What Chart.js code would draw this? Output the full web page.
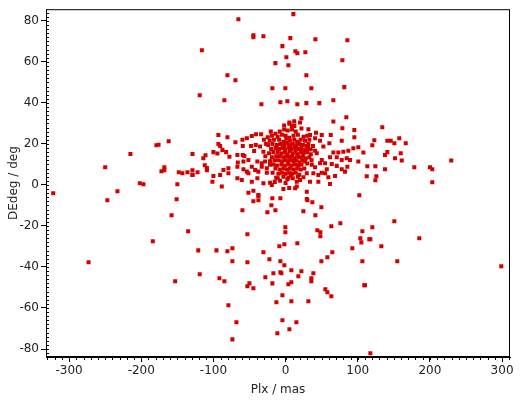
<!DOCTYPE html>
<html>
<head>
<meta charset="utf-8">
<script src="https://cdn.jsdelivr.net/npm/chart.js@4/dist/chart.umd.min.js"></script>
<style>
  body { margin: 0; background: #fff; }
  canvas { display: block; }
</style>
</head>
<body>
<canvas id="plxChart" width="526" height="400"></canvas>
<script>
// axis ticks
const xTicks = [-300, -200, -100, 0, 100, 200, 300];
const yTicks = [-80, -60, -40, -20, 0, 20, 40, 60, 80];

// points, [Plx, DEdeg]
const leftPoints = [
  [-116, 65.7], [-119, 43.7], [-162, 21.3], [-179, 19.4], [-176, 19.6], [-215, 15.1],
  [-129, 15.1], [-111, 14.5], [-114, 13], [-250, 8.6], [-168, 8.6], [-168, 7.2],
  [-172, 6.7], [-112, 9.6], [-109, 8.3], [-109, 7.2], [-148, 6.2], [-143, 5.7],
  [-136, 6.2], [-129, 7.2], [-129, 5], [-122, 6.2], [-322, -4], [-273, -37.7],
  [-247, -7.5], [-233, -3.1], [-202, 0.8], [-197, 0.3], [-184, -27.5], [-150, 0.3],
  [-151, -7], [-158, -14.8], [-135, -22.6], [-121, -31.9], [-119, -43.6], [-153, -47],
  [-129, 4.9]
];

const innerLeftPoints = [
  [-20.5, 26], [5.3, 29.8], [12.2, 28.8], [-93.1, 24.4], [-80.6, 23.3], [-69.5, 20.8],
  [-59.8, 22], [-53.7, 22.8], [-46.8, 23.9], [-40.9, 24.7], [-33.9, 24.7], [-24.7, 23.3],
  [-93.1, 20], [-90.7, 19], [-59.3, 19], [-47.8, 19], [-41.3, 19.5], [-35.3, 18.7],
  [-87.5, 17.1], [-82.4, 16], [-100, 16], [-94.5, 15.3], [-66.8, 14.6], [-59.3, 14.6],
  [-57.1, 14.1], [-43.6, 16.6], [-30.7, 16.2], [-77.8, 13.8], [-66.2, 10.9], [-58.4, 11.4],
  [-51.5, 12.2], [-39.1, 11.4], [-33, 10.6], [-28.4, 11.4], [-21.5, 11.4], [-86.1, 7.3],
  [-79.2, 8.1], [-66.8, 8.9], [-58.4, 7.7], [-46.8, 8.9], [-42.2, 7.3], [-37.7, 6.5],
  [-33, 8.9], [-26, 8.1], [-21.5, 9.8], [-100, 4.4], [-90.7, 4.9], [-79.2, 5.7],
  [-53.7, 6.5], [-51.5, 5.7], [-101.4, 1.6], [-66.8, 3.3], [-60.7, 2.4], [-46.8, 1.6],
  [-39.1, 3.3], [-30.7, 0.8], [-21.5, 1.1], [-19.1, 0], [-10.8, 3.3], [-7.6, 2],
  [2.5, 2.8], [10, 3.3], [15.5, 1.6], [-88.4, -0.8], [-51.5, -3.8], [-44.6, -2.8],
  [-37.7, -4.9]
];

const innerRightPoints = [
  [8.6, 28.8], [20.1, 30.4], [31.6, 27.2], [42.2, 25.5], [50.1, 24.4], [78.7, 27.7],
  [95.3, 26.8], [33.9, 24.4], [40.9, 22.8], [47.8, 21.6], [62.6, 24.4], [77.8, 21.5],
  [95.3, 23.3], [60.7, 20.3], [52.4, 18.7], [31.6, 20], [34.9, 17.4], [40.9, 16.7],
  [43.2, 15.5], [66.2, 15.8], [73.1, 15.8], [80.1, 16.2], [87, 16.7], [93.9, 17.9],
  [100.8, 18.4], [107.8, 15.8], [61.6, 13.5], [70.9, 13.5], [77.8, 12.2], [84.8, 13],
  [89.3, 12.2], [50.1, 12.2], [54.7, 10.6], [100.8, 11.4], [64, 10.2], [70.9, 9.3],
  [77.8, 7.7], [85.6, 8.9], [82.4, 6.5], [36.3, 9.8], [40.9, 8.6], [47.8, 10.6],
  [57.1, 7.7], [50.1, 6], [45.4, 4.9], [38.5, 5.7], [29.4, 5.7], [24.7, 3.8],
  [20.1, 2.4], [54.7, 5.7], [59.3, 3.8], [68.6, 4.4], [33.9, 1.6], [45.4, 1.6],
  [61.6, 0.5], [15.5, -0.8], [13.2, -1.6], [29.4, -3.3], [29.4, -6.8]
];

const corePoints = [
  [-8, 26], [-2, 27], [3, 26.5], [9, 27], [14, 26], [22, 27.5], [-14, 25],
  [-19, 24], [-11, 23.5], [-5, 24.5], [0, 24], [5, 23], [11, 24], [17, 24.5], [25, 23.5], [30, 24],
  [-22, 21.5], [-16, 22], [-9, 22], [-3, 21], [1, 22.5], [6, 21.5], [12, 22], [16, 21], [21, 22], [27, 21.5], [33, 22],
  [-24, 19.5], [-18, 20], [-12, 19.5], [-7, 20], [-2, 19], [2, 20.5], [7, 19.5], [10, 20], [15, 19], [19, 20], [24, 19.5], [29, 19],
  [-20, 17.5], [-14, 18], [-9, 17.5], [-4, 18], [0, 17], [4, 18.5], [8, 17.5], [13, 18], [18, 17.5], [22, 18], [26, 17], [31, 18],
  [-23, 15.5], [-17, 16], [-11, 16], [-6, 15.5], [-1, 16], [3, 15], [6, 16.5], [10, 15.5], [14, 16], [17, 15], [21, 16], [25, 15.5], [30, 16], [35, 15],
  [-19, 13.5], [-13, 14], [-8, 14], [-3, 13.5], [1, 14], [5, 13.5], [9, 14], [12, 13], [16, 14], [20, 13.5], [24, 14], [28, 13], [33, 13.5],
  [-21, 11.5], [-15, 12], [-10, 12], [-5, 11.5], [0, 12], [3, 11.5], [7, 12], [11, 11.5], [15, 12], [19, 11], [23, 12], [27, 11.5],
  [-17, 10], [-12, 9.5], [-6, 10], [-1, 9.5], [4, 10], [8, 9.5], [13, 10], [18, 9.5], [22, 10], [30, 10.5],
  [-14, 8], [-8, 7.5], [-3, 8], [2, 7.5], [6, 8], [11, 7.5], [16, 8], [21, 7.5], [26, 8],
  [-18, 6], [-10, 5.5], [-5, 6], [0, 5.5], [5, 6], [9, 5.5], [14, 6], [19, 5],
  [-13, 3.5], [-3, 4], [4, 3.5], [7, 4.5], [17, 4],
  [-28, 14], [-27, 20], [-30, 22], [-26, 6], [-15, 1.5], [0, 1], [5, -1.5], [-3, -2],
  [36, 12], [38, 19], [-2, 29], [12, 31]
];

const upperPoints = [
  [10.8, 83.3], [-65.4, 80.8], [-44.6, 73], [-44.6, 72], [-30.7, 72.5], [6.6, 71.6],
  [41.3, 71.1], [85.6, 70.6], [-4.4, 67.7], [13.6, 65.2], [16.3, 64.2], [27.4, 64.7],
  [1.1, 62.3], [78.7, 60.8], [-14.1, 59.4], [3.9, 58.4], [-80.6, 53.5], [-69.5, 51.1],
  [28.8, 53.5], [-18.3, 47.2], [-0.3, 47.2], [35.7, 47.2], [81.4, 47.7], [-84.8, 41.3],
  [-33.5, 39.4], [-7.2, 40.3], [2.5, 40.8], [16.3, 39.4], [28.8, 39.9], [46.8, 39.9],
  [66.2, 41.3], [21.9, 32.5], [84.2, 33], [5.3, 30.4], [66.2, 30.9]
];

const lowerPoints = [
  [-37.7, -5.4], [-44.6, -8], [-37.7, -7.5], [-18.3, -6.5], [-7.2, -6.5], [-19.7, -9.9],
  [-14.1, -12.3], [-25.2, -13.3], [-59.8, -12.3], [30.2, -7.5], [37.1, -8.4], [49.6, -10.9],
  [24.7, -12.8], [41.3, -14.8], [102.2, -5], [75.9, -18.7], [63.4, -20.1], [44, -22.1],
  [48.2, -23.1], [48.2, -25], [-0.3, -20.6], [-0.3, -23.1], [-52.9, -24], [106.4, -22.6],
  [103.6, -26], [105, -28], [116, -26.5], [92.5, -30.9], [16.3, -28.4], [-1.7, -28.9],
  [-8.6, -29.9], [-95.8, -31.9], [-80.6, -32.3], [-73.7, -30.9], [-30.7, -32.8], [64.8, -32.8],
  [57.9, -35.3], [49.6, -37.2], [-22.4, -36.2], [-73.7, -37.2], [-52.9, -37.7], [-7.2, -37.2],
  [-1.7, -39.2], [106.4, -37.2], [21.9, -42.1], [8, -41.6], [-7.2, -42.6], [-5.8, -43.1],
  [-16.9, -43.1], [-28, -45], [38.5, -43.1], [35.7, -45.5], [35.7, -47], [17.7, -44.5],
  [-91.7, -45.5], [-84.8, -47], [-50.1, -48], [-52.9, -49.4], [-44.6, -50.4], [-18.3, -48],
  [3.9, -48.4], [8, -47.5], [109.1, -48.9], [55.1, -50.9], [57.9, -52.3], [63.4, -54.3],
  [-4.4, -53.8], [-12.7, -57.2], [8, -56.7], [31.6, -56.7], [-79.2, -58.7], [-68.1, -67],
  [-4.4, -66], [15, -67], [5.3, -70.4], [-11.4, -72.3], [-73.7, -75.3]
];

const rightPoints = [
  [134, 28.1], [141, 21.5], [145.7, 21.5], [150.7, 20.3], [157.6, 22.8], [166.5, 20.3],
  [141, 16], [137.8, 14.6], [159.6, 15.5], [151.7, 13], [161, 11.9], [137.8, 7.7],
  [178.4, 8.6], [200.1, 8.6], [203.3, 7.7], [229.6, 11.9], [203.3, 1.3], [123, 21.8],
  [120.2, 19.4], [113.3, 9.1], [124.4, 9.1], [112.5, 4.2], [125.8, 4.2], [124.4, 2.3],
  [150.7, -17.7], [120.2, -20.6], [117.5, -26.5], [132.7, -29.9], [185.3, -26],
  [154.8, -37.2], [298.9, -39.7], [110.1, -48.9], [117.5, -82.1]
];

const allPoints = [
  ...leftPoints, ...innerLeftPoints, ...innerRightPoints, ...corePoints,
  ...upperPoints, ...lowerPoints, ...rightPoints
].map(([x, y]) => ({ x, y }));

const textColor = '#222';
const axisFont = { family: 'DejaVu Sans', size: 12 };

// box round the plot plus the small minor ticks
const framePlugin = {
  id: 'frame',
  afterDraw(chart) {
    const { ctx, chartArea: a, scales: { x, y } } = chart;
    ctx.save();
    ctx.strokeStyle = '#000';
    ctx.lineWidth = 1;
    ctx.strokeRect(a.left + 0.5, a.top + 0.5, a.right - a.left - 1, a.bottom - a.top - 1);
    ctx.beginPath();
    for (let v = -330; v <= 310; v += 10) {
      const px = Math.round(x.getPixelForValue(v)) + 0.5;
      ctx.moveTo(px, a.bottom);
      ctx.lineTo(px, a.bottom + 3);
    }
    for (let v = -82; v <= 84; v += 2) {
      const py = Math.round(y.getPixelForValue(v)) + 0.5;
      ctx.moveTo(a.left, py);
      ctx.lineTo(a.left + 3, py);
    }
    ctx.stroke();
    ctx.restore();
  }
};

new Chart(document.getElementById('plxChart'), {
  type: 'scatter',
  data: {
    datasets: [{
      data: allPoints,
      backgroundColor: '#d40000',
      borderWidth: 0,
      pointStyle: 'rect',
      pointRadius: 2.85,
      pointHoverRadius: 2.85,
    }],
  },
  options: {
    responsive: false,
    animation: false,
    events: [],
    layout: { padding: { top: 9, right: 16, left: 0, bottom: 0 } },
    plugins: {
      legend: { display: false },
      tooltip: { enabled: false },
    },
    scales: {
      x: {
        type: 'linear',
        min: -332,
        max: 311,
        afterBuildTicks: (s) => { s.ticks = xTicks.map(v => ({ value: v })); },
        afterFit: (s) => { s.height = 43; },
        ticks: { color: textColor, font: axisFont, padding: 2, maxRotation: 0 },
        grid: { drawOnChartArea: false, drawTicks: true, tickLength: 5, tickColor: '#000' },
        border: { display: true, color: '#000' },
        title: { display: true, text: 'Plx / mas', color: textColor, font: axisFont, padding: { top: 0, bottom: 3 } },
      },
      y: {
        type: 'linear',
        min: -83.9,
        max: 85.7,
        afterBuildTicks: (s) => { s.ticks = yTicks.map(v => ({ value: v })); },
        afterFit: (s) => { s.width = 46; },
        ticks: { color: textColor, font: axisFont, padding: 2 },
        grid: { drawOnChartArea: false, drawTicks: true, tickLength: 5, tickColor: '#000' },
        border: { display: true, color: '#000' },
        title: { display: true, text: 'DEdeg / deg', color: textColor, font: axisFont, padding: { top: 7, bottom: 0 } },
      },
    },
  },
  plugins: [framePlugin],
});
</script>
</body>
</html>
